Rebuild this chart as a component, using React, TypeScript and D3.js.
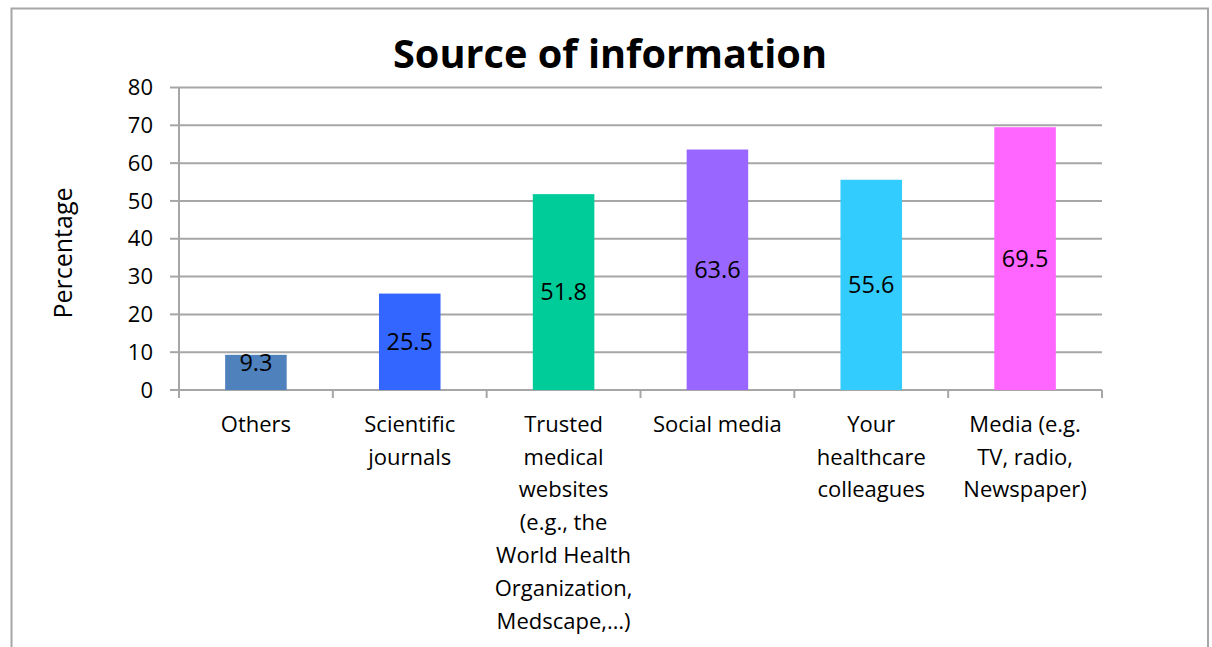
import React from "react";
import * as d3 from "d3";

const categories: string[][] = [
  ["Others"],
  ["Scientific", "journals"],
  ["Trusted", "medical", "websites", "(e.g., the", "World Health", "Organization,", "Medscape,…)"],
  ["Social media"],
  ["Your", "healthcare", "colleagues"],
  ["Media (e.g.", "TV, radio,", "Newspaper)"],
];
const values: number[] = [9.3, 25.5, 51.8, 63.6, 55.6, 69.5];
const barColors: string[] = ["#4f81bd", "#3366ff", "#00cc99", "#9966ff", "#33ccff", "#ff66ff"];
const yTicks: number[] = [0, 10, 20, 30, 40, 50, 60, 70, 80];
const title = "Source of information";
const yTitle = "Percentage";

const W = 1212;
const H = 647;
const FONT = "'Open Sans', sans-serif";

export default function App() {
  const left = 179;
  const right = 1102;
  const top = 87.5;
  const bottom = 390;
  const x = d3
    .scaleBand<number>()
    .domain(values.map((_, i) => i))
    .range([left, right])
    .paddingInner(0.6)
    .paddingOuter(0.3);
  const y = d3.scaleLinear().domain([0, 80]).range([bottom, top]);
  const step = x.step();
  const grid = "#a6a6a6";

  return (
    <svg
      width={W}
      height={H}
      style={{ position: "absolute", left: 0, top: 0, background: "#fff" }}
      fontFamily={FONT}
    >
      <rect x={0} y={0} width={W} height={H} fill="#fff" />
      <rect x={11.5} y={8.5} width={1196.5} height={H + 10} fill="none" stroke={grid} strokeWidth={2} />
      <text
        x={610}
        y={68}
        textAnchor="middle"
        fontSize={40}
        fontWeight="bold"
        textLength={434}
        lengthAdjust="spacingAndGlyphs"
        fill="#000"
      >
        {title}
      </text>
      {yTicks.map((t) => (
        <g key={t}>
          <line x1={left} x2={right} y1={y(t)} y2={y(t)} stroke={grid} strokeWidth={2} />
          <line x1={170} x2={left} y1={y(t)} y2={y(t)} stroke={grid} strokeWidth={2} />
          <text x={153} y={y(t)} dy="0.35em" textAnchor="end" fontSize={22} fill="#000">
            {t}
          </text>
        </g>
      ))}
      <line x1={left} x2={left} y1={top} y2={bottom} stroke={grid} strokeWidth={2} />
      {d3.range(values.length + 1).map((i) => (
        <line
          key={i}
          x1={left + i * step}
          x2={left + i * step}
          y1={bottom}
          y2={398}
          stroke={grid}
          strokeWidth={2}
        />
      ))}
      <text
        transform={`translate(72,253) rotate(-90)`}
        textAnchor="middle"
        fontSize={25}
        fill="#000"
      >
        {yTitle}
      </text>
      {values.map((v, i) => {
        const bx = x(i)!;
        const bw = x.bandwidth();
        const by = y(v);
        const cy = Math.min((by + bottom) / 2, bottom - 27);
        return (
          <g key={i}>
            <rect x={bx} y={by} width={bw} height={bottom - by} fill={barColors[i]} />
            <text x={bx + bw / 2} y={cy} dy="0.35em" textAnchor="middle" fontSize={23.5} fill="#000">
              {v.toFixed(1)}
            </text>
          </g>
        );
      })}
      {categories.map((lines, i) => (
        <text key={i} textAnchor="middle" fontSize={22} fill="#000">
          {lines.map((ln, j) => (
            <tspan key={j} x={x(i)! + x.bandwidth() / 2} y={424 + j * 32.8} dy="0.35em">
              {ln}
            </tspan>
          ))}
        </text>
      ))}
    </svg>
  );
}
